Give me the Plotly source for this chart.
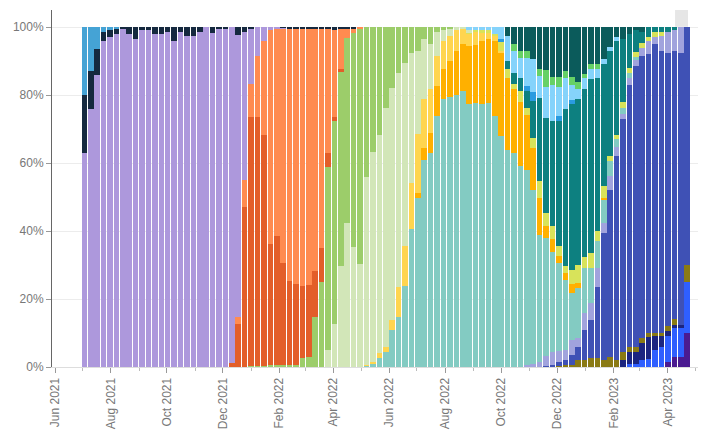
import pandas as pd
import plotly.graph_objects as go

N = 95
weeks = pd.date_range("2021-07-03", periods=N, freq="7D")

def pad(start, vals):
    vals = list(vals)
    return [0] * start + vals + [0] * (N - start - len(vals))

# weekly shares (%), listed from the bottom of the stack upwards
xbb_1_16 = pad(91, [1.5, 3, 3, 10])
xbb_1_9_1 = pad(85, [1, 1, 2, 2.5, 5, 6, 7.5, 8.5, 8.5, 15])
xbb_1_9_2 = pad(84, [2, 3.5, 3.5, 5, 6.3, 4, 3, 1.5, 1, 1, 0])
xbb_1_5_1 = pad(74, [0.3, 0.6, 0.6, 2.1, 2.1, 2.6, 2.6, 2, 3, 2, 2.5, 1.5, 1.5, 1.5, 1.2, 1, 1, 1.5, 1.5, 0, 5])
xbb_1_5 = pad(72, [0.3, 0.5, 1.1, 1.5, 2.9, 3.9, 8.8, 11.3, 21.1, 37.4, 49.2, 60.5, 68.3, 77, 83, 81.5, 82, 85, 83, 80.5, 79, 80, 70])
xbb = pad(69, [0.5, 1, 1.5, 3, 4, 3.4, 2.9, 4.4, 2.5, 4.9, 4.9, 5.4, 2.9, 3.9, 2.5, 1.5, 2, 2, 2.5, 4, 2, 4.5, 6, 6, 7.5, 0])
ba_5 = pad(44, [0.3, 1, 2.5, 4.5, 10.9, 14.8, 23.7, 40.6, 49.8, 61, 63, 73.8, 78.8, 79.3, 79.5, 80.7, 77, 77.3, 77.8, 78,
                74.3, 68.4, 64, 63, 59.1, 57.6, 51.1, 37.4, 34.9, 29.5, 26, 20.6, 13.8, 14.7, 13.3, 10.3, 7.9, 6.9, 4.4, 2.5,
                2, 1.5, 0.5])
ba_4_6 = pad(52, [1.5, 3.4, 5.9, 8.8, 8.8, 10.8, 13, 13.8, 17, 17.2, 18.7, 19, 22.1, 24.6, 21.1, 18.7, 18.7, 16.2, 12.3, 10.8,
                  3.4, 3.9, 2, 2, 2.9, 1.5, 0, 0, 0, 0.5])
ba_4 = pad(44, [0.3, 0.5, 1.5, 1.5, 3, 8.8, 11.8, 13.6, 17.2, 14.3, 12.8, 8.8, 8.4, 7.4, 5.9, 4.4, 3.9, 3.9, 2.5, 2, 1.5, 0.5])
ba_2_75 = pad(60, [0.3, 0.3, 0.5, 0.5, 0.5, 2.5, 2.5, 1.5, 3.4, 2, 2.9, 4.9, 3.9, 3.9, 2.9, 2, 3.9, 5.4, 3.4, 4.4,
                   3, 3.4, 1.5, 1, 1.5, 1.5, 1.5, 1.5, 1, 1.5, 1])
ba_2_12_1 = pad(38, [5, 12.9, 29.6, 42.4, 35.5, 30.1, 55, 61.5, 64, 70.3, 68.3, 63, 54, 38.3, 24.5, 17.8, 13.3, 7.1, 3, 2,
                     1, 0.5, 0.5])
ba_2 = pad(26, [0.3, 0.3, 0.3, 0.5, 0.5, 0.5, 0.5, 0.5, 2.5, 3, 14.8, 25, 54, 60, 57.4, 54.6, 63, 69, 43.9, 36.5, 31.5,
                23.7, 17.8, 13.4, 10.5, 7.5, 7, 3.5, 5, 1.5, 1, 0.5])
b_1_1_529 = pad(23, [1.3, 12.7, 47, 73.5, 73.5, 68, 35.7, 38, 30, 24.7, 24, 21.4, 21, 13.3, 10, 4, 1.2, 0.8])
ba_1_1 = pad(24, [1.9, 7.9, 9.6, 18, 28, 63, 61, 69, 74.5, 75.5, 75.5, 75, 71.5, 64.5, 37, 26, 12, 3, 1.5, 0.5])
delta = pad(0, [63, 76, 86, 96, 97, 98, 99.3, 98, 96.5, 99, 99, 98, 98, 98.5, 96, 98.5, 97.5, 97.5, 98.5, 100,
                98.3, 99.5, 99.7, 98.7, 83, 43.5, 16.4, 8.5, 4, 1, 0.5, 0.3])
ay = pad(0, [17, 11, 7.4, 2.5, 2, 1.5, 0.7, 2, 3.5, 1, 1, 2, 2, 1.5, 4, 1.5, 2.5, 2.5, 1.5, 0,
             1.7, 0.5, 0.3, 0, 2.4, 1.5, 0.5, 0, 0, 0, 0, 0.2, 0.5, 0.5, 0.5, 0.3, 0.3, 0.5, 0.3, 0.8,
             0.3, 0.3, 0.3])
alpha = pad(0, [20, 13, 6.6, 1.5, 1, 0.5])
bq_1 = pad(66, [2.5, 3.4, 3.9, 4.9, 10.8, 24.6, 28, 31, 36.9, 46.2, 49.2, 48.7, 49.2, 51, 45.2, 35.9, 31, 28, 18.7, 10,
                6.5, 3, 3, 1.5, 1.5, 1.5, 1])
bf_11 = pad(65, [1, 0, 0, 0, 1.5, 2.5, 0, 0, 0, 1.5, 0, 1])
bf_7 = pad(60, [1, 1, 1, 1, 2.1, 3.5, 7.4, 6.4, 5.9, 8.4, 9.8, 6.4, 9.3, 10.8, 8.8, 9.3, 4.4, 2.9, 3.4, 3,
                2.5, 1.5, 1, 1])
bn_1 = pad(67, [2, 2, 2, 0, 2, 4.9, 2.5, 2.9, 2, 2.5, 2, 1, 1.5, 1.5])
bq_1_1 = pad(66, [2.6, 5, 7, 7, 9.4, 12.4, 12.8, 14.7, 14.7, 12.9, 14.7, 16.3, 13.9, 10.9, 10.9, 9.4, 6, 3, 3.5, 2,
                  1, 1.5])

y_ticks = [0, 20, 40, 60, 80, 100]
y_tick_labels = ["0%", "20%", "40%", "60%", "80%", "100%"]

series = [
    ("XBB.1.16", xbb_1_16, "#4b1b91"),
    ("XBB.1.9.1", xbb_1_9_1, "#2f5fff"),
    ("XBB.1.9.2", xbb_1_9_2, "#1c2580"),
    ("XBB.1.5.1", xbb_1_5_1, "#8a7a14"),
    ("XBB.1.5", xbb_1_5, "#3f51b5"),
    ("XBB", xbb, "#a1a3dd"),
    ("BA.5", ba_5, "#83cbc2"),
    ("BA.4.6", ba_4_6, "#ffb000"),
    ("BA.4", ba_4, "#ffd54f"),
    ("BA.2.75", ba_2_75, "#d8e35a"),
    ("BA.2.12.1", ba_2_12_1, "#d2e6b8"),
    ("BA.2", ba_2, "#9ccd6a"),
    ("B.1.1.529", b_1_1_529, "#e35e29"),
    ("BA.1.1", ba_1_1, "#ff8b50"),
    ("B.1.617.2", delta, "#ad98dc"),
    ("AY.x", ay, "#15293f"),
    ("B.1.1.7", alpha, "#45a3d5"),
    ("BQ.1", bq_1, "#0d8080"),
    ("BF.11", bf_11, "#2a9be0"),
    ("BF.7", bf_7, "#85d3fb"),
    ("BN.1", bn_1, "#66d166"),
    ("BQ.1.1", bq_1_1, "#0b5b5b"),
]

fig = go.Figure()
for name, vals, color in series:
    fig.add_trace(go.Bar(x=weeks, y=vals, name=name, marker=dict(color=color, line=dict(width=0)),
                         showlegend=False))

fig.add_shape(type="rect", xref="paper", yref="paper", x0=0.9615, x1=0.9815, y0=0.953, y1=1.0,
              fillcolor="#e6e6e6", line=dict(width=0), layer="above")

fig.update_layout(
    width=706, height=430,
    margin=dict(l=44, r=14, t=2, b=71, autoexpand=False),
    barmode="stack", barnorm="percent", bargap=0.13,
    plot_bgcolor="white", paper_bgcolor="white",
    font=dict(family="Liberation Sans, Arial, sans-serif", color="#777777"),
)
fig.update_yaxes(
    range=[0, 105], tickvals=y_ticks, ticktext=y_tick_labels, automargin=False,
    showgrid=True, gridcolor="#ececec", gridwidth=1, zeroline=False,
    showline=True, linecolor="#666666", linewidth=1,
    ticks="outside", ticklen=5, tickcolor="#999999", tickfont=dict(size=12, color="#777777"),
)
fig.update_xaxes(
    type="date", range=["2021-05-28 17:00", "2023-05-06"], automargin=False,
    dtick="M2", tick0="2021-06-01", tickformat="%b %Y", tickangle=-90,
    ticks="outside", ticklen=5, tickcolor="#999999", tickfont=dict(size=12, color="#777777"),
    minor=dict(dtick="M1", ticks="outside", ticklen=3, tickcolor="#bbbbbb", showgrid=False),
    showgrid=False, showline=True, linecolor="#dddddd", linewidth=1,
)
fig.write_html("out.html")
